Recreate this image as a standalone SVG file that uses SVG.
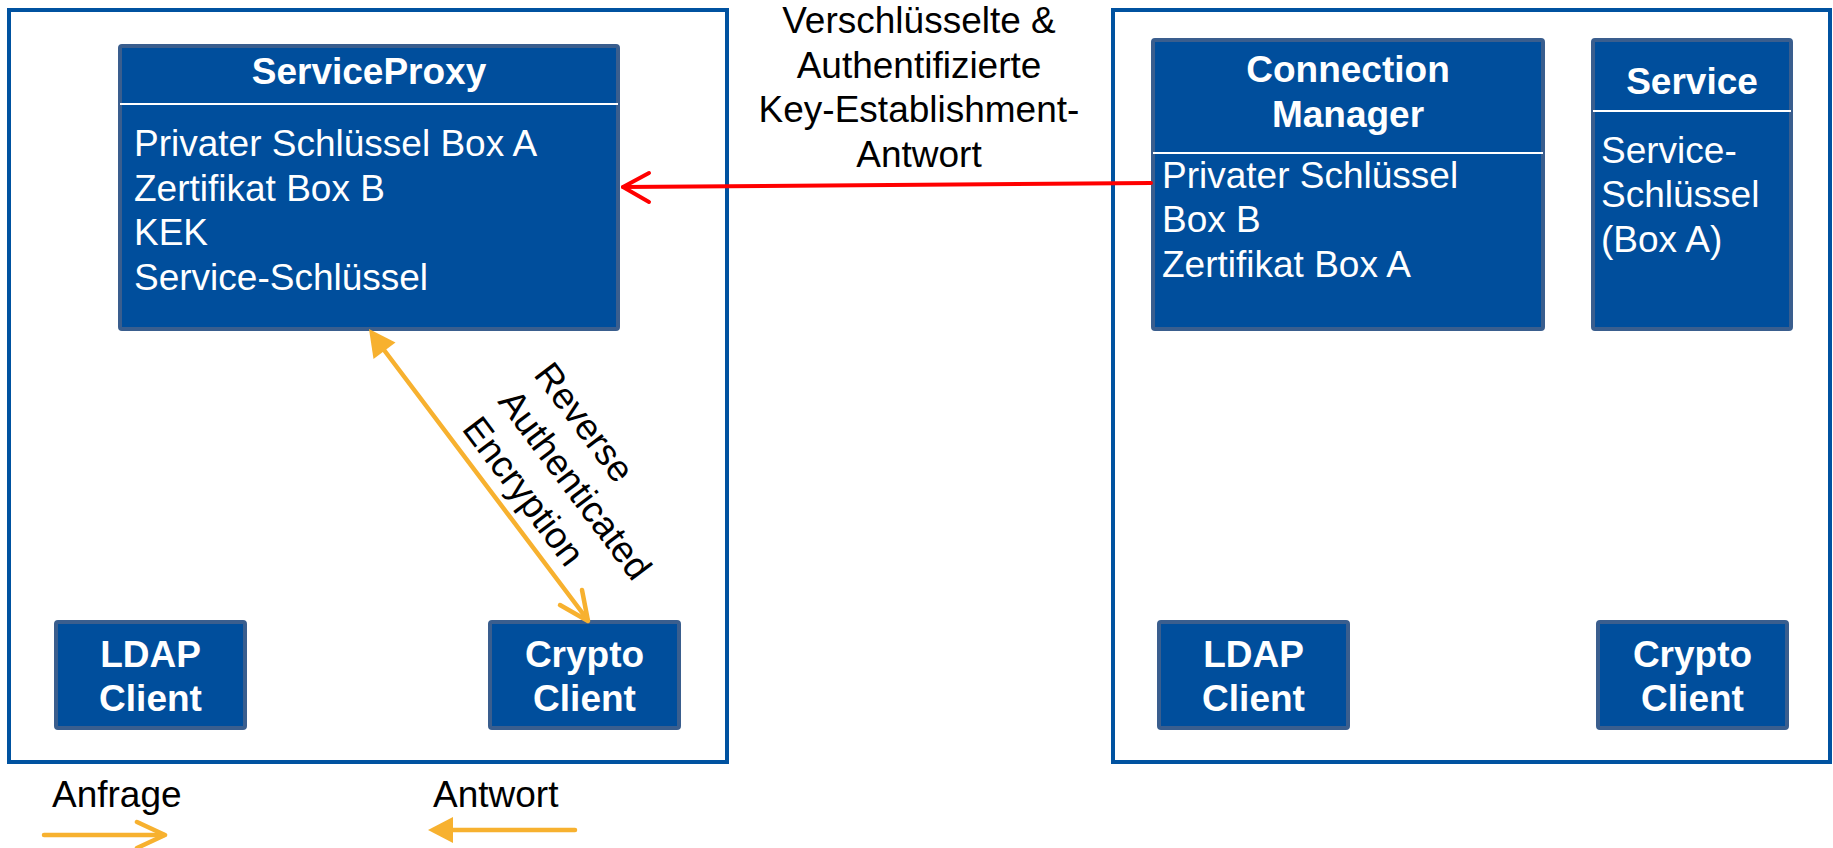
<svg xmlns="http://www.w3.org/2000/svg" width="1833" height="848" viewBox="0 0 1833 848">
  <style>
    .frame { fill: none; stroke: #0052A0; stroke-width: 4; }
    .box { fill: #004E9C; stroke: #3A5E8E; stroke-width: 4; }
    .div { stroke: #FFFFFF; stroke-width: 2; }
    .t { font-family: "Liberation Sans", Arial, sans-serif; font-size: 37px; }
    .w { fill: #FFFFFF; }
    .b { font-weight: bold; }
    .k { fill: #000000; }
    .c { text-anchor: middle; }
    .red { fill: none; stroke: #FF0000; stroke-width: 4; stroke-linecap: round; stroke-linejoin: round; }
    .org { fill: none; stroke: #F7B12F; stroke-width: 4.5; stroke-linecap: round; stroke-linejoin: round; }
    .orgf { fill: #F7B12F; }
  </style>

  <rect width="1833" height="848" fill="#FFFFFF"/>

  <!-- host frames -->
  <g id="host-a">
    <rect class="frame" x="9" y="10" width="718" height="752"/>
  </g>
  <g id="host-b">
    <rect class="frame" x="1113" y="10" width="717" height="752"/>
  </g>

  <!-- ServiceProxy -->
  <g id="serviceproxy">
    <rect class="box" x="120" y="46" width="498" height="283" rx="2"/>
    <line class="div" x1="120" y1="104" x2="618" y2="104"/>
    <text class="t w b c" x="369" y="84">ServiceProxy</text>
    <text class="t w" x="134" y="156">Privater Schlüssel Box A</text>
    <text class="t w" x="134" y="201">Zertifikat Box B</text>
    <text class="t w" x="134" y="245">KEK</text>
    <text class="t w" x="134" y="290">Service-Schlüssel</text>
  </g>

  <!-- Connection Manager -->
  <g id="connection-manager">
    <rect class="box" x="1153" y="40" width="390" height="289" rx="2"/>
    <line class="div" x1="1153" y1="153" x2="1543" y2="153"/>
    <text class="t w b c" x="1348" y="82">Connection</text>
    <text class="t w b c" x="1348" y="127">Manager</text>
    <text class="t w" x="1162" y="188">Privater Schlüssel</text>
    <text class="t w" x="1162" y="232">Box B</text>
    <text class="t w" x="1162" y="277">Zertifikat Box A</text>
  </g>

  <!-- Service -->
  <g id="service">
    <rect class="box" x="1593" y="40" width="198" height="289" rx="2"/>
    <line class="div" x1="1593" y1="111" x2="1791" y2="111"/>
    <text class="t w b c" x="1692" y="94">Service</text>
    <text class="t w" x="1601" y="163">Service-</text>
    <text class="t w" x="1601" y="207">Schlüssel</text>
    <text class="t w" x="1601" y="252">(Box A)</text>
  </g>

  <!-- client boxes -->
  <g id="ldap-client-a">
    <rect class="box" x="56" y="622" width="189" height="106" rx="2"/>
    <text class="t w b c" x="150.5" y="667">LDAP</text>
    <text class="t w b c" x="150.5" y="711">Client</text>
  </g>
  <g id="crypto-client-a">
    <rect class="box" x="490" y="622" width="189" height="106" rx="2"/>
    <text class="t w b c" x="584.5" y="667">Crypto</text>
    <text class="t w b c" x="584.5" y="711">Client</text>
  </g>
  <g id="ldap-client-b">
    <rect class="box" x="1159" y="622" width="189" height="106" rx="2"/>
    <text class="t w b c" x="1253.5" y="667">LDAP</text>
    <text class="t w b c" x="1253.5" y="711">Client</text>
  </g>
  <g id="crypto-client-b">
    <rect class="box" x="1598" y="622" width="189" height="106" rx="2"/>
    <text class="t w b c" x="1692.5" y="667">Crypto</text>
    <text class="t w b c" x="1692.5" y="711">Client</text>
  </g>

  <!-- connectors -->
  <g id="connectors">
    <!-- key establishment response -->
    <line class="red" x1="1151" y1="183" x2="623" y2="187"/>
    <polyline class="red" points="649,173 623,187 649,202"/>
    <text class="t k c" x="919" y="33">Verschlüsselte &amp;</text>
    <text class="t k c" x="919" y="78">Authentifizierte</text>
    <text class="t k c" x="919" y="122">Key-Establishment-</text>
    <text class="t k c" x="919" y="167">Antwort</text>

    <!-- reverse authenticated encryption -->
    <line class="org" x1="378" y1="342" x2="587" y2="619"/>
    <polygon class="orgf" points="369,329 373.5,359 395.5,342.5"/>
    <polyline class="org" points="560,605 588,621 582,590"/>
    <g transform="rotate(53)">
      <text class="t k" x="620" y="-200">Reverse</text>
      <text class="t k" x="620" y="-155">Authenticated</text>
      <text class="t k" x="620" y="-110">Encryption</text>
    </g>
  </g>

  <!-- legend -->
  <g id="legend">
    <text class="t k" x="52" y="807">Anfrage</text>
    <line class="org" x1="44" y1="835" x2="164" y2="835" stroke-linecap="butt"/>
    <polyline class="org" points="137,822 165,835 137,848"/>
    <text class="t k" x="433" y="807">Antwort</text>
    <line class="org" x1="450" y1="830" x2="575" y2="830" stroke-width="5" stroke-linecap="butt"/>
    <polygon class="orgf" points="428,830 453,817 453,843"/>
  </g>
</svg>
